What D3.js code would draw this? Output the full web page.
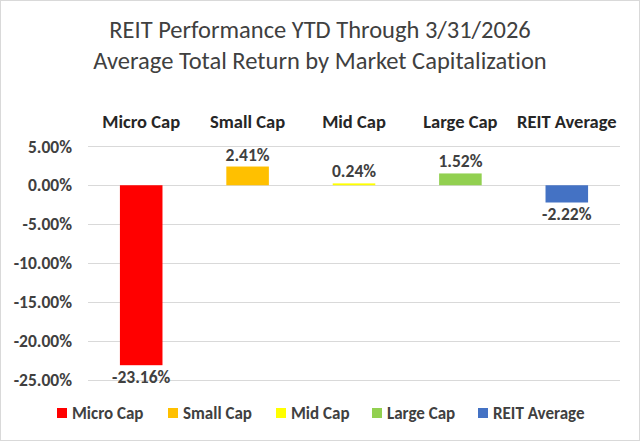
<!DOCTYPE html>
<html><head><meta charset="utf-8">
<script src="https://cdn.jsdelivr.net/npm/d3@7"></script>
<style>body{margin:0;background:#fff}svg{display:block}text{font-family:Carlito,Lato,"Open Sans",sans-serif;font-variant-ligatures:none}</style>
</head><body><svg id="c" width="640" height="441"></svg>
<script>
const categories = ["Micro Cap","Small Cap","Mid Cap","Large Cap","REIT Average"];
const values = [-23.16, 2.41, 0.24, 1.52, -2.22];
const colors = ["#FF0000","#FFC000","#FFFF00","#92D050","#4472C4"];
const tickValues = [5,0,-5,-10,-15,-20,-25];
const titleLines = ["REIT Performance YTD Through 3/31/2026","Average Total Return by Market Capitalization"];

const svg = d3.select("#c");
svg.append("rect").attr("x",0.5).attr("y",0.5).attr("width",639).attr("height",440).attr("fill","#fff").attr("stroke","#D9D9D9");

const x = d3.scaleBand().domain(categories).range([88,620]).paddingInner(0.6).paddingOuter(0.3);
const y = d3.scaleLinear().domain([-25,5]).range([379.5,146.4]);

svg.selectAll(".t").data(titleLines).join("text")
  .attr("x",320).attr("y",(d,i)=>38+i*31).attr("text-anchor","middle")
  .attr("font-size",24.5).attr("fill","#404040").text(d=>d);

// gridlines
svg.append("g").selectAll("line").data(tickValues).join("line")
  .attr("x1",88).attr("x2",620).attr("y1",d=>Math.round(y(d))+0.5).attr("y2",d=>Math.round(y(d))+0.5)
  .attr("stroke","#D9D9D9").attr("stroke-width",1);

// y axis labels
const yAxis = d3.axisLeft(y).tickValues(tickValues).tickFormat(d=>d.toFixed(2)+"%").tickSize(0).tickPadding(0);
const gy = svg.append("g").attr("transform","translate(72,0)").call(yAxis);
gy.select(".domain").remove();
gy.selectAll("text").attr("font-size",17.5).attr("font-weight","bold").attr("fill","#404040")
  .attr("font-family","Carlito,Lato,'Open Sans',sans-serif");

// category labels at top
svg.selectAll(".cat").data(categories).join("text")
  .attr("x",d=>x(d)+x.bandwidth()/2).attr("y",128).attr("text-anchor","middle")
  .attr("font-size",18.5).attr("font-weight","bold").attr("fill","#262626").text(d=>d);

// bars
svg.selectAll(".bar").data(values).join("rect")
  .attr("x",(d,i)=>x(categories[i]))
  .attr("width",x.bandwidth())
  .attr("y",d=>y(Math.max(0,d)))
  .attr("height",d=>Math.max(1.5,Math.abs(y(d)-y(0))))
  .attr("fill",(d,i)=>colors[i]);

// value labels
svg.selectAll(".vl").data(values).join("text")
  .attr("x",(d,i)=>x(categories[i])+x.bandwidth()/2)
  .attr("y",d=> d>=0 ? y(d)-6 : y(d)+18)
  .attr("text-anchor","middle").attr("font-size",17.5).attr("font-weight","bold").attr("fill","#404040")
  .text(d=>d.toFixed(2)+"%");

// legend
const legX = [57,168,276,372,478];
const leg = svg.append("g");
categories.forEach((c,i)=>{
  leg.append("rect").attr("x",legX[i]).attr("y",408).attr("width",10).attr("height",10).attr("fill",colors[i]);
  leg.append("text").attr("x",legX[i]+15).attr("y",419).attr("font-size",17).attr("font-weight","bold").attr("fill","#404040").text(c);
});
</script></body></html>
